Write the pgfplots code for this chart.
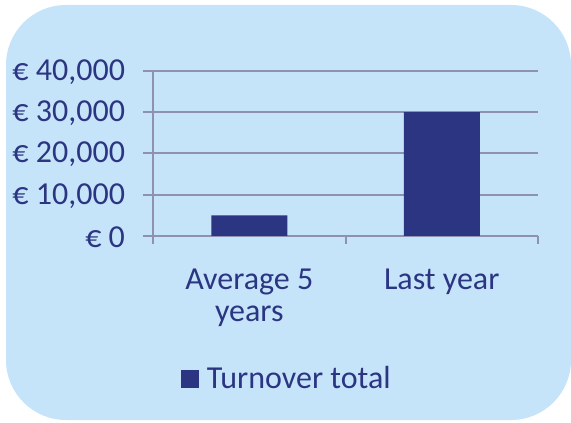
\documentclass[border=0pt]{standalone}
\usepackage{pgfplots}
\pgfplotsset{compat=1.18}
\usepackage{fontspec}
\setmainfont{Carlito}
\definecolor{bgc}{HTML}{C5E4FA}
\definecolor{barc}{HTML}{2B3582}
\definecolor{txtc}{HTML}{2B3582}
\definecolor{gridc}{HTML}{8E91B0}
\begin{document}
\begin{tikzpicture}
\path[use as bounding box] (0pt,0pt) rectangle (285.5pt,211pt);
\fill[bgc, rounded corners=30pt] (3pt,1pt) rectangle (285.5pt,208.5pt);
\begin{axis}[
  at={(76.5pt,93pt)}, anchor=origin,
  scale only axis, width=192.5pt, height=82.5pt,
  xmin=0, xmax=2, ymin=0, ymax=40000,
  scaled y ticks=false,
  axis x line=bottom, axis y line=left,
  axis line style={gridc, line width=1pt, -},
  every tick/.style={gridc, line width=1pt},
  tick align=outside,
  major tick length=5pt,
  minor tick length=4pt,
  ytick={0,10000,20000,30000,40000},
  yticklabels={{€ 0},{€ 10,000},{€ 20,000},{€ 30,000},{€ 40,000}},
  xtick={0.5,1.5},
  xticklabels={{Average 5\\years},{Last year}},
  minor xtick={0,1,2},
  major x tick style={draw=none},
  xticklabel style={align=center, font=\fontsize{16}{16}\selectfont, yshift=-8pt},
  yticklabel style={font=\fontsize{16}{15.5}\selectfont, xshift=-5.5pt, yshift=-0.5pt},
  ymajorgrids, grid style={gridc, line width=1pt},
  tick label style={text=txtc},
  ybar, bar width=38pt, bar shift=0pt,
  legend style={at={(0.35,-0.867)}, anchor=center, draw=none, fill=none,
    font=\fontsize{16}{15.5}\selectfont, text=txtc},
  legend image code/.code={\fill[barc] (-4.5pt,-4.5pt) rectangle (4.5pt,4.5pt);},
  clip=false,
]
\addplot[fill=barc, draw=none] coordinates {(0.5,5000) (1.5,30000)};
\addlegendentry{\hspace{2pt}Turnover total}
\end{axis}
\end{tikzpicture}
\end{document}
